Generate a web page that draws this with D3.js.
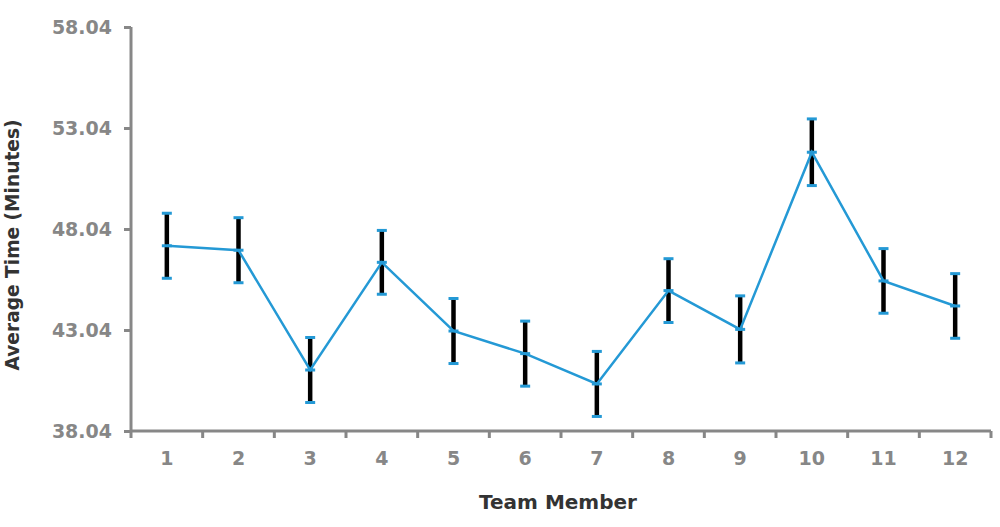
<!DOCTYPE html>
<html>
<head>
<meta charset="utf-8">
<script src="https://cdn.jsdelivr.net/npm/d3@7"></script>
<style>
  html, body { margin: 0; padding: 0; background: #fff; }
  svg { display: block; font-family: "DejaVu Sans", sans-serif; font-weight: bold; }
</style>
</head>
<body>
<svg id="chart" width="1000" height="527"></svg>
<script>
// --- données ---
const members = ["1", "2", "3", "4", "5", "6", "7", "8", "9", "10", "11", "12"];
const avgTime = [47.21, 46.99, 41.06, 46.39, 42.99, 41.87, 40.37, 44.99, 43.07, 51.84, 45.47, 44.23];
const errTime = [1.61, 1.61, 1.61, 1.58, 1.61, 1.61, 1.61, 1.58, 1.66, 1.65, 1.60, 1.60];
const yTicks = [38.04, 43.04, 48.04, 53.04, 58.04];

const svg = d3.select("#chart");
const axisColor = "#878787";
const lineColor = "#2499d5";

// échelles
const x = d3.scaleBand().domain(members).range([131, 991]);
const y = d3.scaleLinear().domain([38.04, 58.04]).range([431, 27]);

const data = members.map((m, i) => ({ m, v: avgTime[i], e: errTime[i] }));
const cx = d => x(d.m) + x.bandwidth() / 2;

// axe Y
const yAxis = svg.append("g")
    .attr("transform", "translate(131,0)")
    .call(d3.axisLeft(y).tickValues(yTicks).tickFormat(d3.format(".2f")).tickSize(7).tickPadding(12));

// axe X
const xAxis = svg.append("g")
    .attr("transform", "translate(0,431)")
    .call(d3.axisBottom(x).tickSize(0).tickPadding(21));

// petites graduations entre les catégories
xAxis.selectAll(".sep")
    .data(d3.range(members.length + 1))
    .join("line")
    .attr("class", "sep")
    .attr("x1", i => 131 + i * x.step())
    .attr("x2", i => 131 + i * x.step())
    .attr("y1", 0)
    .attr("y2", 7)
    .attr("stroke", axisColor)
    .attr("stroke-width", 3);

[yAxis, xAxis].forEach(a => {
    a.select(".domain").attr("stroke", axisColor).attr("stroke-width", 3);
    a.selectAll(".tick line").attr("stroke", axisColor).attr("stroke-width", 3);
    a.selectAll(".tick text")
        .attr("fill", axisColor)
        .style("font-size", "19px")
        .style("font-family", "'DejaVu Sans', sans-serif")
        .style("font-weight", "bold");
});
xAxis.select(".domain").attr("d", "M131,0H991");
yAxis.select(".domain").attr("d", "M0,27V431");

// barres d'erreur (noires)
svg.append("g").selectAll("line")
    .data(data)
    .join("line")
    .attr("x1", cx).attr("x2", cx)
    .attr("y1", d => y(d.v + d.e))
    .attr("y2", d => y(d.v - d.e))
    .attr("stroke", "#000")
    .attr("stroke-width", 4.5);

// ligne
svg.append("path")
    .datum(data)
    .attr("fill", "none")
    .attr("stroke", lineColor)
    .attr("stroke-width", 2.5)
    .attr("d", d3.line().x(cx).y(d => y(d.v)));

// embouts + marqueurs centraux
const caps = data.flatMap(d => [d.v + d.e, d.v, d.v - d.e].map(v => ({ d, v })));
svg.append("g").selectAll("line")
    .data(caps)
    .join("line")
    .attr("x1", c => cx(c.d) - 5)
    .attr("x2", c => cx(c.d) + 5)
    .attr("y1", c => y(c.v))
    .attr("y2", c => y(c.v))
    .attr("stroke", lineColor)
    .attr("stroke-width", 3);

// titres
svg.append("text")
    .attr("x", 558).attr("y", 509)
    .attr("text-anchor", "middle")
    .attr("fill", "#333")
    .style("font-size", "20px")
    .text("Team Member");

svg.append("text")
    .attr("transform", "translate(19,245) rotate(-90)")
    .attr("text-anchor", "middle")
    .attr("fill", "#333")
    .style("font-size", "18.6px")
    .text("Average Time (Minutes)");
</script>
</body>
</html>
